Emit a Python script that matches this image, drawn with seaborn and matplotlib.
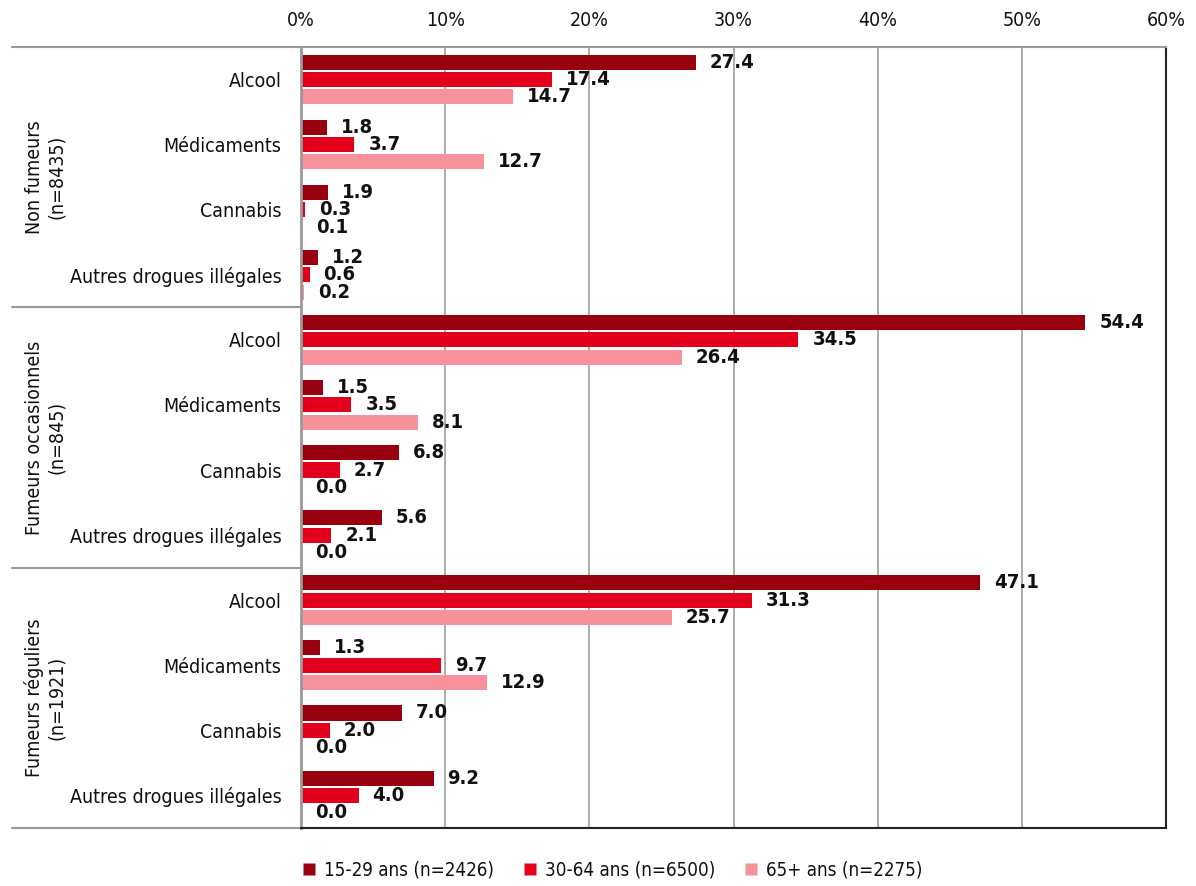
import pandas as pd
import matplotlib.pyplot as plt
import seaborn as sns
from matplotlib.lines import Line2D
from matplotlib.transforms import blended_transform_factory

# =============================
# Data (percentages)
# =============================
groups = ["Non fumeurs\n(n=8435)", "Fumeurs occasionnels\n(n=845)", "Fumeurs réguliers\n(n=1921)"]
substances = ["Alcool", "Médicaments", "Cannabis", "Autres drogues illégales"]
ages = ["15-29 ans (n=2426)", "30-64 ans (n=6500)", "65+ ans (n=2275)"]

# one list per age band, order: group x substance
vals_15_29 = [27.4, 1.8, 1.9, 1.2,
              54.4, 1.5, 6.8, 5.6,
              47.1, 1.3, 7.0, 9.2]
vals_30_64 = [17.4, 3.7, 0.3, 0.6,
              34.5, 3.5, 2.7, 2.1,
              31.3, 9.7, 2.0, 4.0]
vals_65 = [14.7, 12.7, 0.1, 0.2,
           26.4, 8.1, 0.0, 0.0,
           25.7, 12.9, 0.0, 0.0]

colors = ["#98000F", "#E2001C", "#F7919C"]
xticks = [0, 10, 20, 30, 40, 50, 60]

# =============================
# Long table
# =============================
keys = [f"{g}|{s}" for g in groups for s in substances]
rows = []
for age, vals in zip(ages, [vals_15_29, vals_30_64, vals_65]):
    for k, v in zip(keys, vals):
        rows.append({"key": k, "age": age, "value": v})
df = pd.DataFrame(rows)

# =============================
# Plot
# =============================
sns.set_style("white")
plt.rcParams["font.family"] = ["DejaVu Sans"]
plt.rcParams["font.stretch"] = "condensed"
FS = 14

fig = plt.figure(figsize=(11.96, 8.86), dpi=100)
ax = fig.add_axes([0.2517, 0.0655, 0.7232, 0.8815])

sns.barplot(data=df, y="key", x="value", hue="age", order=keys, hue_order=ages,
            palette=colors, orient="h", width=0.8, gap=0.13, ax=ax,
            edgecolor="none", saturation=1)

for cont in ax.containers:
    ax.bar_label(cont, fmt="%.1f", padding=10, fontsize=14.5, fontweight="bold",
                 color="#111111")

ax.set_xlim(0, 60)
ax.set_ylim(11.5, -0.5)
ax.set_xticks(xticks)
ax.set_xticklabels([f"{t}%" for t in xticks])
ax.xaxis.tick_top()
ax.tick_params(axis="x", length=0, pad=12, labelsize=FS, labelcolor="#111111")
ax.set_yticks(range(len(keys)))
ax.set_yticklabels([k.split("|")[1] for k in keys])
ax.tick_params(axis="y", length=0, pad=14, labelsize=FS, labelcolor="#111111")
ax.set_xlabel("")
ax.set_ylabel("")

ax.set_axisbelow(True)
ax.xaxis.grid(True, color="#A6A6A6", linewidth=1.3)

for side in ["top", "left"]:
    ax.spines[side].set_visible(True)
    ax.spines[side].set_color("#999999")
ax.spines["left"].set_linewidth(2)
ax.spines["top"].set_linewidth(1.5)
for side in ["right", "bottom"]:
    ax.spines[side].set_visible(True)
    ax.spines[side].set_color("#222222")
    ax.spines[side].set_linewidth(1.5)

# group separators and labels on the left
trans = blended_transform_factory(ax.transAxes, ax.transData)
for yb in [-0.5, 3.5, 7.5, 11.5]:
    ax.plot([-0.334, 0], [yb, yb], color="#999999", linewidth=1.5,
            transform=trans, clip_on=False)
for i, g in enumerate(groups):
    ax.text(-0.296, 4 * i + 1.5, g, transform=trans, rotation=90,
            ha="center", va="center", multialignment="center", fontsize=FS,
            color="#111111")

# legend
ax.get_legend().remove()
handles = [Line2D([], [], marker="s", linestyle="none", markersize=8,
                  markerfacecolor=c, markeredgecolor="none") for c in colors]
fig.legend(handles, ages, loc="lower center", bbox_to_anchor=(0.511, -0.012),
           ncol=3, frameon=False, fontsize=13.5, handletextpad=0.3,
           columnspacing=1.4, handlelength=1.0, labelcolor="#111111")

plt.savefig("out.png", dpi=100)
